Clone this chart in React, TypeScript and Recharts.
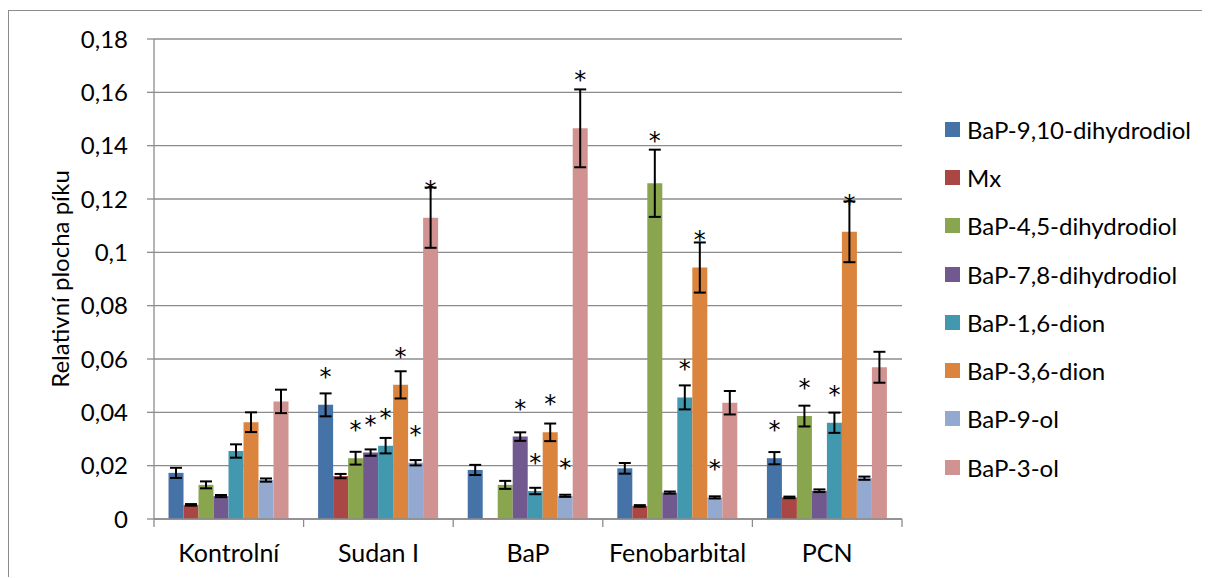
import React from 'react';
import { BarChart, Bar, XAxis, YAxis, CartesianGrid, ErrorBar, LabelList, Label } from 'recharts';

// Treatment groups on the category axis
const categories = ['Kontrolní', 'Sudan I', 'BaP', 'Fenobarbital', 'PCN'];

// Metabolite series: mean relative peak area, error (±) and significance flag per group
const dihydrodiol910 = [0.0173, 0.0428, 0.0184, 0.019, 0.0228];
const dihydrodiol910Err = [0.0019, 0.0043, 0.0019, 0.002, 0.0023];
const dihydrodiol910Sig = [false, true, false, false, true];

const mx = [0.0053, 0.0161, 0.0003, 0.0049, 0.0081];
const mxErr = [0.0003, 0.0008, null, 0.0003, 0.0003];
const mxSig = [false, false, false, false, false];

const dihydrodiol45 = [0.0128, 0.0228, 0.0128, 0.1259, 0.0386];
const dihydrodiol45Err = [0.0013, 0.0024, 0.0015, 0.0126, 0.0039];
const dihydrodiol45Sig = [false, true, false, true, true];

const dihydrodiol78 = [0.0086, 0.0249, 0.0309, 0.0099, 0.0106];
const dihydrodiol78Err = [0.0004, 0.0012, 0.0016, 0.0004, 0.0005];
const dihydrodiol78Sig = [false, true, true, false, false];

const dion16 = [0.0255, 0.0275, 0.0105, 0.0456, 0.0361];
const dion16Err = [0.0025, 0.0029, 0.0012, 0.0045, 0.0038];
const dion16Sig = [false, true, true, true, true];

const dion36 = [0.0363, 0.0503, 0.0325, 0.0943, 0.1077];
const dion36Err = [0.0037, 0.0051, 0.0033, 0.0094, 0.0114];
const dion36Sig = [false, true, true, true, true];

const ol9 = [0.0146, 0.0211, 0.0087, 0.0081, 0.0153];
const ol9Err = [0.0006, 0.001, 0.0004, 0.0004, 0.0006];
const ol9Sig = [false, true, true, true, false];

const ol3 = [0.0441, 0.113, 0.1465, 0.0436, 0.0569];
const ol3Err = [0.0044, 0.0113, 0.0146, 0.0044, 0.0058];
const ol3Sig = [false, true, true, false, false];

const yTicks = [0, 0.02, 0.04, 0.06, 0.08, 0.1, 0.12, 0.14, 0.16, 0.18];

type Series = {
  key: string;
  name: string;
  color: string;
  values: number[];
  err: (number | null)[];
  sig: boolean[];
};

const series: Series[] = [
  { key: 'a', name: 'BaP-9,10-dihydrodiol', color: '#4572A7', values: dihydrodiol910, err: dihydrodiol910Err, sig: dihydrodiol910Sig },
  { key: 'b', name: 'Mx', color: '#AA4643', values: mx, err: mxErr, sig: mxSig },
  { key: 'c', name: 'BaP-4,5-dihydrodiol', color: '#89A54E', values: dihydrodiol45, err: dihydrodiol45Err, sig: dihydrodiol45Sig },
  { key: 'd', name: 'BaP-7,8-dihydrodiol', color: '#71588F', values: dihydrodiol78, err: dihydrodiol78Err, sig: dihydrodiol78Sig },
  { key: 'e', name: 'BaP-1,6-dion', color: '#4198AF', values: dion16, err: dion16Err, sig: dion16Sig },
  { key: 'f', name: 'BaP-3,6-dion', color: '#DB843D', values: dion36, err: dion36Err, sig: dion36Sig },
  { key: 'g', name: 'BaP-9-ol', color: '#93A9CF', values: ol9, err: ol9Err, sig: ol9Sig },
  { key: 'h', name: 'BaP-3-ol', color: '#D19392', values: ol3, err: ol3Err, sig: ol3Sig },
];

const data = categories.map((cat, i) => {
  const row: Record<string, any> = { cat };
  series.forEach((s) => {
    row[s.key] = s.values[i];
    row[s.key + 'Err'] = s.err[i];
    row[s.key + 'Sig'] = s.sig[i] ? 1 : 0;
  });
  return row;
});

const FONT = 'Lato, "Open Sans", sans-serif';
const GRID = '#8c8c8c';
const CHART_W = 1200;
const CHART_H = 566;
const MARGIN = { top: 28, right: 307, bottom: 0, left: 0 };
const Y_AXIS_W = 145;
const X_AXIS_H = 58;
const PLOT_W = CHART_W - MARGIN.left - MARGIN.right - Y_AXIS_W;
const BAND = PLOT_W / categories.length;

const formatTick = (v: number) => String(Number(v.toFixed(2))).replace('.', ',');

const CategoryTick = (props: any) => {
  const { x, y, payload, index } = props;
  const half = BAND / 2;
  return (
    <g>
      <line x1={x - half} x2={x - half} y1={y} y2={y + 8} stroke={GRID} strokeWidth={1.3} />
      {index === categories.length - 1 && (
        <line x1={x + half} x2={x + half} y1={y} y2={y + 8} stroke={GRID} strokeWidth={1.3} />
      )}
      <text x={x} y={y + 33} textAnchor="middle" dominantBaseline="central" fontSize={25} fill="#000" fontFamily={FONT}>
        {payload.value}
      </text>
    </g>
  );
};

// Significance asterisk: sits above the bar, lifted clear of a tall error bar
const makeStar = (s: Series) => (props: any) => {
  const { x, y, width, height, value, index } = props;
  if (!value) return null;
  const v = s.values[index];
  const e = s.err[index] ?? 0;
  const pxPerUnit = v > 0 ? height / v : 0;
  const errTop = y - e * pxPerUnit;
  let cy = y - 32;
  if (errTop < cy) cy = errTop - 13;
  return (
    <text x={x + width / 2} y={cy + 12} textAnchor="middle" fontSize={24} fill="#000" fontFamily='"DejaVu Sans", sans-serif'>
      *
    </text>
  );
};

const YTitle = (props: any) => {
  const { viewBox } = props;
  const cx = viewBox.x + 50;
  const cy = viewBox.y + viewBox.height / 2;
  return (
    <text
      x={0}
      y={0}
      transform={`translate(${cx},${cy}) rotate(-90)`}
      textAnchor="middle"
      dominantBaseline="central"
      fontSize={24}
      fill="#000"
      fontFamily={FONT}
    >
      Relativní plocha píku
    </text>
  );
};

export default function App() {
  return (
    <div
      style={{
        position: 'relative',
        marginTop: 2,
        width: CHART_W,
        height: CHART_H,
        borderLeft: `1px solid ${GRID}`,
        borderTop: `1px solid ${GRID}`,
        fontFamily: FONT,
      }}
    >
      <BarChart
        width={CHART_W}
        height={CHART_H}
        data={data}
        margin={MARGIN}
        barCategoryGap="9.7%"
        barGap={0}
      >
        <CartesianGrid vertical={false} stroke={GRID} strokeWidth={1.3} />
        <XAxis
          dataKey="cat"
          height={X_AXIS_H}
          axisLine={{ stroke: GRID, strokeWidth: 1.3 }}
          tickLine={false}
          tickSize={0}
          tickMargin={0}
          interval={0}
          tick={<CategoryTick />}
        />
        <YAxis
          width={Y_AXIS_W}
          domain={[0, 0.18]}
          ticks={yTicks}
          interval={0}
          tickFormatter={formatTick}
          axisLine={{ stroke: GRID, strokeWidth: 1.3 }}
          tickLine={{ stroke: GRID, strokeWidth: 1.3 }}
          tickSize={7}
          tickMargin={19}
          tick={{ fill: '#000', fontSize: 24, fontFamily: FONT }}
        >
          <Label content={<YTitle />} />
        </YAxis>
        {series.map((s) => (
          <Bar key={s.key} dataKey={s.key} name={s.name} fill={s.color} isAnimationActive={false}>
            <ErrorBar dataKey={s.key + 'Err'} width={6} stroke="#000" strokeWidth={2} direction="y" />
            <LabelList dataKey={s.key + 'Sig'} content={makeStar(s)} />
          </Bar>
        ))}
      </BarChart>
      <div style={{ position: 'absolute', left: 936, top: 94 }}>
        {series.map((s) => (
          <div key={s.key} style={{ display: 'flex', alignItems: 'center', height: 48.3 }}>
            <span style={{ display: 'inline-block', width: 15, height: 15, background: s.color, marginRight: 7 }} />
            <span style={{ fontSize: 24, color: '#000', whiteSpace: 'nowrap' }}>{s.name}</span>
          </div>
        ))}
      </div>
    </div>
  );
}
